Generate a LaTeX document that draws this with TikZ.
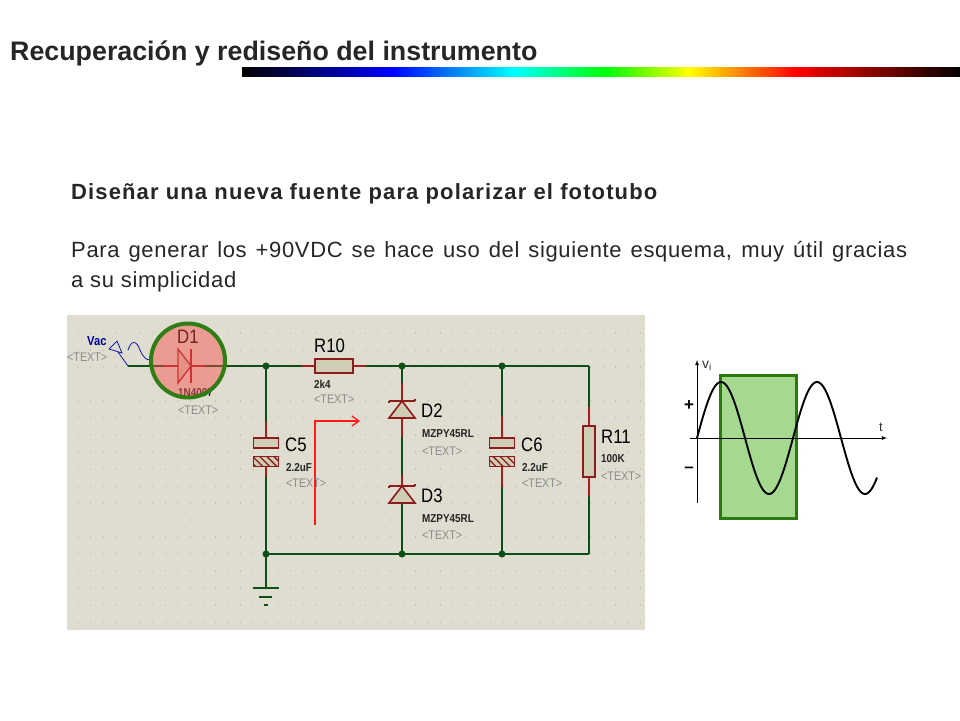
\documentclass[tikz,border=0pt]{standalone}
\usepackage{fontspec}
\usepackage{xcolor}
\setmainfont{Liberation Sans}
\setsansfont{Liberation Sans}
\newfontfamily\schfont[FakeStretch=0.86]{Liberation Sans}
\newfontfamily\headfont[LetterSpace=5.1]{Liberation Sans}
\newfontfamily\bodyfont[LetterSpace=3]{Liberation Sans}
\usetikzlibrary{patterns.meta,arrows.meta}
\definecolor{panelbg}{HTML}{DEDDCF}
\definecolor{paneldot}{HTML}{AFAE9B}
\definecolor{partfill}{HTML}{CFCDB6}
\definecolor{partred}{HTML}{8E1B1B}
\definecolor{wiregreen}{HTML}{0D4F16}
\definecolor{leadred}{HTML}{A3201F}
\definecolor{ringgreen}{HTML}{2F7D14}
\definecolor{boxgreen}{HTML}{A5D990}
\definecolor{boxedge}{HTML}{2B7A0F}
\definecolor{titlegray}{HTML}{262626}
\pgfdeclarehorizontalshading{spectrum}{100bp}{color(0bp)=(black); color(25bp)=(black);
  color(35.45bp)=(blue); color(43.9bp)=(cyan); color(50.35bp)=(green); color(56.1bp)=(yellow);
  color(63.55bp)=(red); color(75bp)=(black); color(100bp)=(black)}
\tikzset{
  wire/.style={wiregreen,line width=1.7pt},
  lead/.style={leadred,line width=1.7pt},
  part/.style={draw=partred,fill=partfill,line width=1.6pt},
  plate/.style={part,rectangle,minimum width=25pt,minimum height=10pt,inner sep=0pt},
  hatchplate/.style={plate,preaction={fill=partfill},pattern={Lines[angle=135,distance=5pt,line width=1.3pt]},pattern color=partred},
  joint/.style={circle,fill=wiregreen,inner sep=0pt,minimum size=7pt},
  refname/.style={anchor=west,inner sep=0pt,font=\schfont\fontsize{19.5}{20}\selectfont},
  valname/.style={anchor=west,inner sep=0pt,font=\schfont\bfseries\fontsize{11.5}{12}\selectfont,text=black!85},
  hidden/.style={anchor=west,inner sep=0pt,font=\schfont\fontsize{12.5}{13}\selectfont,text=black!45}
}
\begin{document}
\begin{tikzpicture}[x=1pt,y=-1pt]
    \useasboundingbox (0,0) rectangle (960,720);
    \node (title) [anchor=west,inner sep=0pt,text=titlegray,font=\bfseries\fontsize{26.8}{30}\selectfont] at (10,53) {Recuperación y rediseño del instrumento};
    \shade [shading=spectrum] (242,67) rectangle (960,76);
    \node (heading) [anchor=west,inner sep=0pt,text=titlegray,font=\headfont\bfseries\fontsize{22}{30}\selectfont] at (71,194) {Diseñar una nueva fuente para polarizar el fototubo};
    \node (intro) [anchor=north west,inner sep=0pt,text=titlegray,text width=836pt,align=justify,font=\bodyfont\fontsize{22}{30}\selectfont] at (71,241) {Para generar los +90VDC se hace uso del siguiente esquema, muy útil gracias\linebreak a su simplicidad};

    \fill [panelbg] (67,315) rectangle (645,630);
    \foreach \i in {0,...,45}
      \foreach \j in {0,...,17}
        \fill [paneldot] ({78+12.5*\i},{333+17*\j}) circle (0.7);

    \coordinate (vacend) at (128,366);
    \coordinate (topA) at (266,366);
    \coordinate (topB) at (402,366);
    \coordinate (topC) at (502,366);
    \coordinate (topD) at (589,366);
    \coordinate (botA) at (266,554);
    \coordinate (botB) at (402,554);
    \coordinate (botC) at (502,554);
    \coordinate (botD) at (589,554);
    \coordinate (earth) at (266,588);
    \coordinate (D1in) at (178,366);
    \coordinate (D1out) at (191,366);
    \coordinate (D2top) at (402,401);
    \coordinate (D2bot) at (402,418);
    \coordinate (D3top) at (402,486);
    \coordinate (D3bot) at (402,503);

    \node (R10) [part,rectangle,minimum width=38pt,minimum height=14pt,inner sep=0pt] at (334,366) {};
    \node (R11) [part,rectangle,minimum width=12pt,minimum height=51pt,inner sep=0pt] at (589,451.5) {};
    \node (C5a) [plate] at (266,443) {};
    \node (C5b) [hatchplate] at (266,461.5) {};
    \node (C6a) [plate] at (502,443) {};
    \node (C6b) [hatchplate] at (502,461.5) {};

    \draw [wire] (vacend) -- (D1in);
    \draw [wire] (D1out) -- (topA);
    \draw [wire] (topA) -- (R10.west);
    \draw [wire] (R10.east) -- (topB);
    \draw [wire] (topB) -- (topC);
    \draw [wire] (topC) -- (topD);
    \draw [wire] (topD) -- (R11.north);
    \draw [wire] (R11.south) -- (botD);
    \draw [wire] (topA) -- (C5a.north);
    \draw [wire] (C5b.south) -- (botA);
    \draw [wire] (topB) -- (D2top);
    \draw [wire] (D2bot) -- (D3top);
    \draw [wire] (D3bot) -- (botB);
    \draw [wire] (topC) -- (C6a.north);
    \draw [wire] (C6b.south) -- (botC);
    \draw [wire] (botA) -- (botB);
    \draw [wire] (botB) -- (botC);
    \draw [wire] (botC) -- (botD);
    \draw [wire] (botA) -- (earth);

    \draw [lead] (R10.west) -- ++(-12,0);
    \draw [lead] (R10.east) -- ++(12,0);
    \draw [lead] (R11.north) -- ++(0,-18);
    \draw [lead] (R11.south) -- ++(0,18);
    \draw [lead] (C5a.north) -- ++(0,-15);
    \draw [lead] (C5b.south) -- ++(0,10);
    \draw [lead] (C6a.north) -- ++(0,-21);
    \draw [lead] (C6b.south) -- ++(0,20);
    \draw [lead] (D2top) -- ++(0,-18);
    \draw [lead] (D2bot) -- ++(0,19);
    \draw [lead] (D3top) -- ++(0,-11);
    \draw [lead] (D1in) -- ++(-14,0);
    \draw [lead] (D1out) -- ++(14,0);

    \foreach \n in {topA,topB,topC,botA,botB,botC}
      \node [joint] at (\n) {};

    \draw [wiregreen,line width=1.6pt] (253,588) -- (279,588);
    \draw [wiregreen,line width=1.6pt] (259,597) -- (272,597);
    \draw [wiregreen,line width=1.6pt] (264,605) -- (268,605);

    \draw [part,line join=miter] (389,418) -- (402,401) -- (415,418) -- cycle;
    \draw [partred,line width=1.6pt] (389,401) -- (415,401);
    \draw [partred,line width=1.6pt] (389,401) -- ++(0,2);
    \draw [partred,line width=1.6pt] (415,401) -- ++(0,-2);
    \draw [part,line join=miter] (389,503) -- (402,486) -- (415,503) -- cycle;
    \draw [partred,line width=1.6pt] (389,486) -- (415,486);
    \draw [partred,line width=1.6pt] (389,486) -- ++(0,2);
    \draw [partred,line width=1.6pt] (415,486) -- ++(0,-2);

    \draw [draw=leadred,fill=partfill,line width=1.3pt] (178,349) -- (191,366) -- (178,383) -- cycle;
    \draw [leadred,line width=1.4pt] (191,349) -- (191,383);

    \draw [blue!70!black,line width=0.7pt] (109,349) -- (117,341) -- (122,353) -- cycle;
    \draw [blue!70!black,line width=0.7pt] (118,352) -- (vacend);
    \draw [blue!70!black,line width=0.7pt] (128,350) .. controls (131,341) and (136,339) .. (140,350) .. controls (143,357) and (146,360) .. (150,360);

    \draw [red!90!white,-{Straight Barb[length=7pt,width=10pt]},line width=1.3pt] (315,525) -- (315,421) -- (360,421);

    \node (vacname) [anchor=west,inner sep=0pt,text=blue!60!black,font=\schfont\bfseries\fontsize{13}{13}\selectfont] at (87,341) {Vac};
    \node (vactext) [hidden] at (67,357) {<TEXT>};
    \node (D1name) [refname] at (177,337) {D1};
    \node (D1val) [valname] at (178,393) {1N4007};
    \node (D1text) [hidden] at (178,410) {<TEXT>};
    \node (R10name) [refname] at (314,346) {R10};
    \node (R10val) [valname] at (314,384) {2k4};
    \node (R10text) [hidden] at (314,399) {<TEXT>};
    \node (C5name) [refname] at (285,445) {C5};
    \node (C5val) [valname] at (286,468) {2.2uF};
    \node (C5text) [hidden] at (286,483) {<TEXT>};
    \node (D2name) [refname] at (421,411) {D2};
    \node (D2val) [valname] at (422,434) {MZPY45RL};
    \node (D2text) [hidden] at (422,451) {<TEXT>};
    \node (D3name) [refname] at (421,496) {D3};
    \node (D3val) [valname] at (422,519) {MZPY45RL};
    \node (D3text) [hidden] at (422,535) {<TEXT>};
    \node (C6name) [refname] at (521,445) {C6};
    \node (C6val) [valname] at (522,468) {2.2uF};
    \node (C6text) [hidden] at (522,483) {<TEXT>};
    \node (R11name) [refname] at (601,437) {R11};
    \node (R11val) [valname] at (601,459) {100K};
    \node (R11text) [hidden] at (601,476) {<TEXT>};

    \node (ring) [circle,draw=ringgreen,fill=red!70!white,fill opacity=0.45,draw opacity=1,line width=4pt,minimum size=74pt,inner sep=0pt] at (188,360.5) {};

    \coordinate (vbot) at (697,503);
    \coordinate (vtop) at (697,360);
    \coordinate (tbeg) at (690,438);
    \coordinate (tend) at (887,438);
    \draw [draw=boxedge,fill=boxgreen,line width=3pt] (720,375) rectangle (796,518);
    \draw [->,>=latex,line width=0.8pt] (vbot) -- (vtop);
    \draw [->,>=latex,line width=0.8pt] (tbeg) -- (tend);
    \draw [black,line width=1.9pt,domain=0:180,samples=120] plot ({697+\x},{438-56*sin(3.75*\x)});
    \node (vlabel) [anchor=west,inner sep=0pt,text=black!80,font=\fontsize{14}{14}\selectfont] at (702,366) {v\textsubscript{i}};
    \node (tlabel) [inner sep=0pt,text=black!80,font=\fontsize{13}{13}\selectfont] at (881,427) {t};
    \node (plus) [inner sep=0pt,font=\bfseries\fontsize{17}{17}\selectfont] at (689,406) {+};
    \node (minus) [inner sep=0pt,font=\bfseries\fontsize{17}{17}\selectfont] at (689,470) {–};
\end{tikzpicture}
\end{document}
